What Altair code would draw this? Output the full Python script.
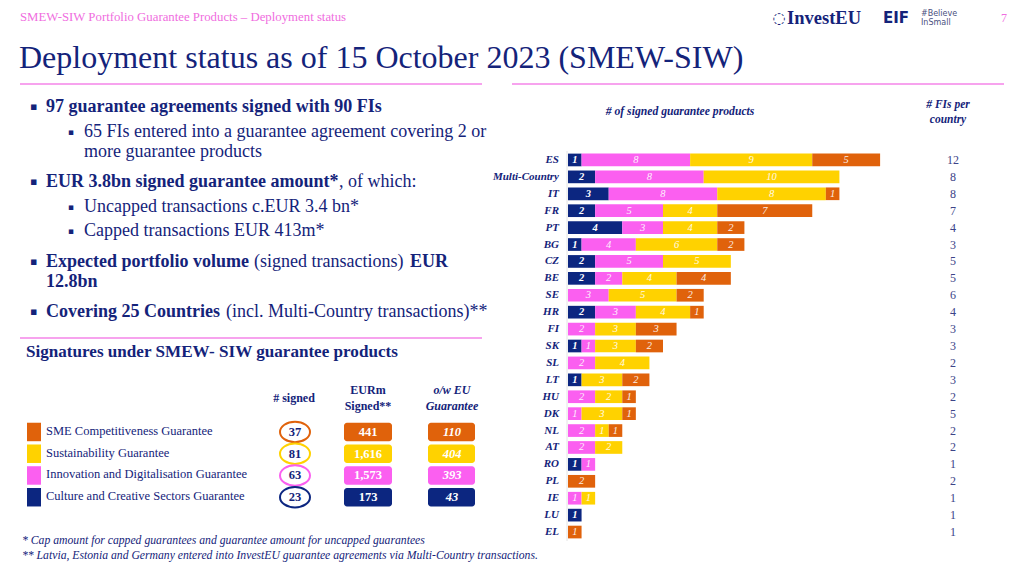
import altair as alt
import pandas as pd

# ---------------- data ----------------
countries = ["ES", "Multi-Country", "IT", "FR", "PT", "BG", "CZ", "BE", "SE", "HR", "FI", "SK",
             "SL", "LT", "HU", "DK", "NL", "AT", "RO", "PL", "IE", "LU", "EL"]
culture = [1, 2, 3, 2, 4, 1, 2, 2, 0, 2, 0, 1, 0, 1, 0, 0, 0, 0, 1, 0, 0, 1, 0]
innovation = [8, 8, 8, 5, 3, 4, 5, 2, 3, 3, 2, 1, 2, 0, 2, 1, 2, 2, 1, 0, 1, 0, 0]
sustainability = [9, 10, 8, 4, 4, 6, 5, 4, 5, 4, 3, 3, 4, 3, 2, 3, 1, 2, 0, 0, 1, 0, 0]
sme = [5, 0, 1, 7, 2, 2, 0, 4, 2, 1, 3, 2, 0, 2, 1, 1, 1, 0, 0, 2, 0, 0, 1]
fis_per_country = [12, 8, 8, 7, 4, 3, 5, 5, 6, 4, 3, 3, 2, 3, 2, 5, 2, 2, 1, 2, 1, 1, 1]

products = ["SME Competitiveness Guarantee", "Sustainability Guarantee",
            "Innovation and Digitalisation Guarantee", "Culture and Creative Sectors Guarantee"]
signed = [37, 81, 63, 23]
eur_signed = [441, 1616, 1573, 173]
eu_guarantee = [110, 404, 393, 43]

product_colors = ["#e0620b", "#ffd200", "#fb5ff0", "#0c2680"]

# ---------------- styles ----------------
NAVY = "#14237a"
PINK = "#f06ee0"
LINE_PINK = "#f7a3ee"
SERIF = "Liberation Serif"
M = 8  # page margin

# stack order left->right: culture, innovation, sustainability, sme
stack_series = [(products[3], culture), (products[2], innovation),
                (products[1], sustainability), (products[0], sme)]
rows = []
for i, c in enumerate(countries):
    start = 0
    for k, (p, vals) in enumerate(stack_series):
        v = vals[i]
        if v > 0:
            rows.append({"country": c, "product": p, "value": v, "start": start,
                         "end": start + v, "mid": start + v / 2, "ord": k})
        start += v
seg = pd.DataFrame(rows)
totals_max = max(a + b + c + d for a, b, c, d in zip(culture, innovation, sustainability, sme))
fis_df = pd.DataFrame({"country": countries, "fis": fis_per_country})
prod_df = pd.DataFrame({"product": products, "signed": signed, "eur": eur_signed, "eu": eu_guarantee})

px_per_unit = 13.57
x0 = 568 - M
xscale = alt.Scale(domain=[0, totals_max], range=[x0, x0 + totals_max * px_per_unit], nice=False, zero=True)
yscale = alt.Scale(domain=countries, range=[151.5 - M, 540.5 - M], paddingInner=0.25, paddingOuter=0.125)
cscale = alt.Scale(domain=products, range=product_colors)

bars = alt.Chart(seg).mark_bar().encode(
    x=alt.X("start:Q", scale=xscale, axis=None),
    x2="end:Q",
    y=alt.Y("country:N", scale=yscale, axis=None),
    color=alt.Color("product:N", scale=cscale, legend=None),
)
seg_labels_navy = alt.Chart(seg).transform_filter(alt.datum.ord == 0).mark_text(
    fontSize=10.5, fontStyle="italic", fontWeight="bold", font=SERIF,
    color="white", baseline="middle").encode(
    x=alt.X("mid:Q", scale=xscale, axis=None),
    y=alt.Y("country:N", scale=yscale, axis=None),
    text="value:Q",
)
seg_labels_other = alt.Chart(seg).transform_filter(alt.datum.ord > 0).mark_text(
    fontSize=10.5, fontStyle="italic", font=SERIF, opacity=0.9,
    color="white", baseline="middle").encode(
    x=alt.X("mid:Q", scale=xscale, axis=None),
    y=alt.Y("country:N", scale=yscale, axis=None),
    text="value:Q",
)
country_labels = alt.Chart(fis_df).mark_text(fontSize=11, fontStyle="italic", fontWeight="bold",
                                            font=SERIF, color=NAVY, align="right",
                                            baseline="middle").encode(
    x=alt.value(559 - M),
    y=alt.Y("country:N", scale=yscale, axis=None),
    text="country:N",
)
fis_labels = alt.Chart(fis_df).mark_text(fontSize=12, font=SERIF, color="#3c4488",
                                        baseline="middle").encode(
    x=alt.value(953 - M),
    y=alt.Y("country:N", scale=yscale, axis=None),
    text="fis:Q",
)
country_group = alt.layer(bars, seg_labels_navy, seg_labels_other, country_labels, fis_labels)

pscale = alt.Scale(domain=products, range=[421.1 - M, 508.1 - M], paddingInner=0.15, paddingOuter=0.075)
py = alt.Y("product:N", scale=pscale, axis=None)
squares = alt.Chart(prod_df).mark_rect().encode(
    x=alt.value(27 - M), x2=alt.value(41 - M), y=py,
    color=alt.Color("product:N", scale=cscale, legend=None))
plabels = alt.Chart(prod_df).mark_text(fontSize=12.5, font=SERIF, color=NAVY, align="left",
                                      baseline="middle", dy=-1).encode(
    x=alt.value(46 - M), y=py, text="product:N")
ellipse = "M -1 0 A 1 0.68 0 1 0 1 0 A 1 0.68 0 1 0 -1 0 Z"
ellipses = alt.Chart(prod_df).mark_point(shape=ellipse, size=900, filled=True, fill="white",
                                        strokeWidth=2, opacity=1).encode(
    x=alt.value(295 - M), y=py,
    stroke=alt.Stroke("product:N", scale=cscale, legend=None))
signed_txt = alt.Chart(prod_df).mark_text(fontSize=12.5, fontWeight="bold", font=SERIF, color=NAVY,
                                         baseline="middle").encode(
    x=alt.value(295 - M), y=py, text="signed:Q")
eur_rect = alt.Chart(prod_df).mark_rect(cornerRadius=3).encode(
    x=alt.value(344 - M), x2=alt.value(392 - M), y=py,
    color=alt.Color("product:N", scale=cscale, legend=None))
eur_txt = alt.Chart(prod_df).mark_text(fontSize=12.5, fontWeight="bold", font=SERIF, color="white",
                                      baseline="middle").encode(
    x=alt.value(368 - M), y=py, text=alt.Text("eur:Q", format=","))
eu_rect = alt.Chart(prod_df).mark_rect(cornerRadius=3).encode(
    x=alt.value(428 - M), x2=alt.value(475 - M), y=py,
    color=alt.Color("product:N", scale=cscale, legend=None))
eu_txt = alt.Chart(prod_df).mark_text(fontSize=12.5, fontWeight="bold", fontStyle="italic", font=SERIF,
                                     color="white", baseline="middle").encode(
    x=alt.value(452 - M), y=py, text=alt.Text("eu:Q", format=","))
product_group = alt.layer(squares, plabels, ellipses, signed_txt, eur_rect, eur_txt, eu_rect, eu_txt)


def T(text, x, y, size=12, weight="normal", style="normal", color=NAVY, align="left",
      font=SERIF, baseline="middle"):
    return alt.Chart(alt.Data(values=[{"t": text}])).mark_text(
        align=align, baseline=baseline, fontSize=size, fontWeight=weight, fontStyle=style,
        color=color, font=font).encode(x=alt.value(x - M), y=alt.value(y - M), text="t:N")


def R(x1, x2, y1, y2, color, width):
    return alt.Chart(alt.Data(values=[{}])).mark_rule(color=color, strokeWidth=width).encode(
        x=alt.value(x1 - M), x2=alt.value(x2 - M), y=alt.value(y1 - M), y2=alt.value(y2 - M))


BUL = "\u25aa"
ann = [
    T("SMEW-SIW Portfolio Guarantee Products \u2013 Deployment status", 20, 17, size=12.8, color=PINK),
    T("\u25cc", 779, 18, size=15, color=NAVY, font="DejaVu Sans", align="center"),
    T("InvestEU", 787, 18, size=18.5, weight="bold", color=NAVY),
    T("EIF", 883, 18, size=15, weight="bold", color=NAVY, font="DejaVu Sans"),
    T("#Believe", 921, 14, size=8, color="#4a5080", font="DejaVu Sans"),
    T("InSmall", 921, 23, size=8, color="#4a5080", font="DejaVu Sans"),
    T("7", 1001, 18, size=12, color=PINK),
    T("Deployment status as of 15 October 2023 (SMEW-SIW)", 19, 68, size=32, color=NAVY,
      baseline="alphabetic"),
    R(20, 482, 84, 84, LINE_PINK, 2),
    R(512, 1004, 84, 84, LINE_PINK, 2),
    # bullets
    T(BUL, 30, 107, size=11, font="DejaVu Sans"),
    T("97 guarantee agreements signed with 90 FIs", 46, 107, size=18, weight="bold"),
    T(BUL, 68, 132, size=9, font="DejaVu Sans"),
    T("65 FIs entered into a guarantee agreement covering 2 or", 84, 132, size=18),
    T("more guarantee products", 84, 152, size=18),
    T(BUL, 30, 182, size=11, font="DejaVu Sans"),
    T("EUR 3.8bn signed guarantee amount*", 46, 182, size=18, weight="bold"),
    T(", of which:", 339, 182, size=18),
    T(BUL, 68, 207, size=9, font="DejaVu Sans"),
    T("Uncapped transactions c.EUR 3.4 bn*", 84, 207, size=18),
    T(BUL, 68, 231, size=9, font="DejaVu Sans"),
    T("Capped transactions EUR 413m*", 84, 231, size=18),
    T(BUL, 30, 262, size=11, font="DejaVu Sans"),
    T("Expected portfolio volume", 46, 262, size=18, weight="bold"),
    T("(signed transactions)", 254, 262, size=18),
    T("EUR", 410, 262, size=18, weight="bold"),
    T("12.8bn", 46, 282, size=18, weight="bold"),
    T(BUL, 30, 312, size=11, font="DejaVu Sans"),
    T("Covering 25 Countries", 46, 312, size=18, weight="bold"),
    T("(incl. Multi-Country transactions)**", 226, 312, size=18),
    R(20, 482, 338, 338, LINE_PINK, 2),
    T("Signatures under SMEW- SIW guarantee products", 26, 352, size=17.1, weight="bold"),
    # table headers
    T("# signed", 294, 398, size=12, weight="bold", align="center"),
    T("EURm", 368, 390, size=12, weight="bold", align="center"),
    T("Signed**", 368, 406, size=12, weight="bold", align="center"),
    T("o/w EU", 452, 390, size=12, weight="bold", style="italic", align="center"),
    T("Guarantee", 452, 406, size=12, weight="bold", style="italic", align="center"),
    # footnotes
    T("*   Cap amount for capped guarantees and guarantee amount for uncapped guarantees", 22, 540,
      size=11.7, style="italic"),
    T("** Latvia, Estonia and Germany entered into InvestEU guarantee agreements via Multi-Country transactions.",
      22, 555, size=11.7, style="italic"),
    # bar chart headers
    T("# of signed guarantee products", 680, 111, size=11.7, weight="bold", style="italic", align="center"),
    T("# FIs per", 948, 105, size=11.5, weight="bold", style="italic", align="center"),
    T("country", 948, 120, size=11.5, weight="bold", style="italic", align="center"),
    R(567, 567, 151, 541, "#e4e4e4", 1),
]

chart = alt.layer(country_group, product_group, *ann).resolve_scale(
    y="independent", x="independent"
).properties(
    width=1008, height=558, autosize=alt.AutoSizeParams(type="none"), padding=0
).configure_view(stroke=None)

chart.save("out.html", embed_options={"renderer": "svg", "actions": False})
